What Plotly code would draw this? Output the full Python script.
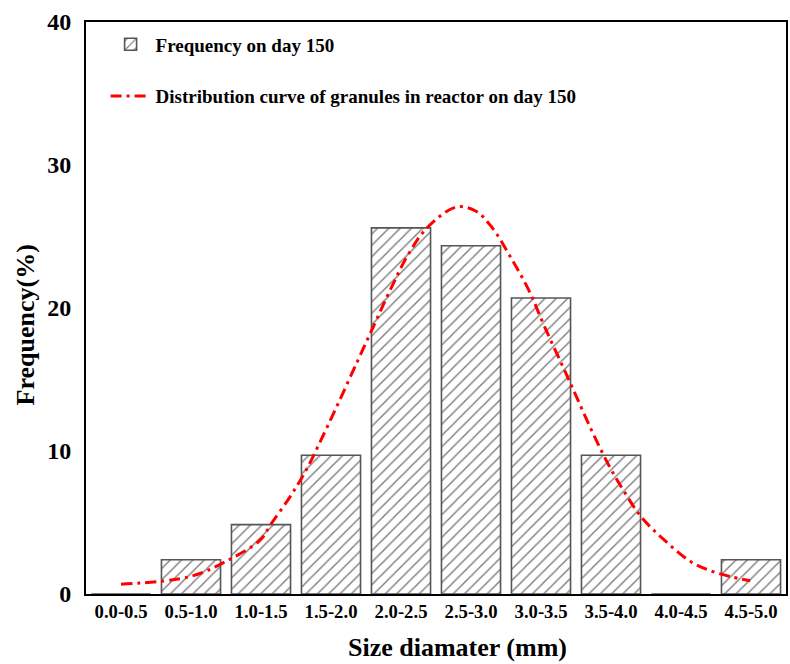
import plotly.graph_objects as go

categories = ["0.0-0.5", "0.5-1.0", "1.0-1.5", "1.5-2.0", "2.0-2.5",
              "2.5-3.0", "3.0-3.5", "3.5-4.0", "4.0-4.5", "4.5-5.0"]
frequency = [0, 2.4, 4.85, 9.7, 25.6, 24.35, 20.7, 9.7, 0, 2.4]

# distribution curve sampled along the category index axis
curve_x = [0, 0.98, 1.49, 1.99, 2.14, 2.40, 2.62, 2.88, 3.54, 3.85, 4.11, 4.39,
           4.79, 5.06, 5.29, 5.56, 5.82, 6.05, 6.41, 6.72, 6.98, 7.19, 7.43,
           7.76, 8.14, 8.42, 8.71, 8.99]
curve_y = [0.68, 1.21, 2.26, 3.78, 4.87, 6.69, 8.44, 11.0, 18.0, 21.3, 23.8, 25.7,
           27.06, 26.8, 25.7, 23.6, 21.3, 18.7, 14.85, 11.47, 8.9, 7.15, 5.4,
           3.78, 2.26, 1.63, 1.21, 0.93]

y_ticks = [0, 10, 20, 30, 40]
x_idx = list(range(len(categories)))

FONT = "Liberation Serif"

fig = go.Figure()
fig.add_trace(go.Bar(
    x=x_idx, y=frequency, name="<b>Frequency on day 150</b>",
    legendgroup="a",
    marker=dict(color="white",
                line=dict(color="#555555", width=1.6),
                pattern=dict(shape="/", fgcolor="#000000", bgcolor="white",
                             size=8, solidity=0.18)),
))
fig.add_trace(go.Scatter(
    x=curve_x, y=curve_y, mode="lines", legendgroup="b",
    name="<b>Distribution curve of granules in reactor on day 150</b>",
    line=dict(color="red", width=3, dash="11px,5px,3px,5px", shape="spline", smoothing=1.0),
))

fig.update_layout(
    width=790, height=664,
    margin=dict(l=86, r=2, t=22, b=70),
    paper_bgcolor="white", plot_bgcolor="white",
    bargap=0.156,
    font=dict(family=FONT, color="black"),
    legend=dict(x=0.028, y=0.994, xanchor="left", yanchor="top",
                font=dict(family=FONT, size=19, color="black"),
                traceorder="grouped", tracegroupgap=24,
                bgcolor="rgba(0,0,0,0)", itemwidth=40),
    showlegend=True,
    annotations=[
        dict(text="<b>Size diamater (mm)</b>", xref="paper", yref="paper",
             x=0.5306, y=-0.0944, xanchor="center", yanchor="middle", showarrow=False,
             font=dict(family=FONT, size=26, color="black")),
        dict(text="<b>Frequency(%)</b>", xref="paper", yref="paper", textangle=-90,
             x=-0.0868, y=0.470, xanchor="center", yanchor="middle", showarrow=False,
             font=dict(family=FONT, size=26, color="black")),
    ],
)
fig.update_xaxes(
    range=[-0.5, 9.5], tickmode="array", tickvals=x_idx,
    ticktext=["<b>%s</b>" % c for c in categories],
    tickfont=dict(family=FONT, size=18.7, color="black"),
    showline=True, linecolor="black", linewidth=2, mirror=True,
    showgrid=False, zeroline=False, ticks="",
)
fig.update_yaxes(
    range=[0, 40], tickmode="array", tickvals=y_ticks,
    ticktext=["<b>%d</b>" % v for v in y_ticks],
    tickfont=dict(family=FONT, size=24, color="black"),
    showline=True, linecolor="black", linewidth=2, mirror=True,
    showgrid=False, zeroline=False, ticks="", ticklabelstandoff=8,
)

fig.write_html("out.html")
